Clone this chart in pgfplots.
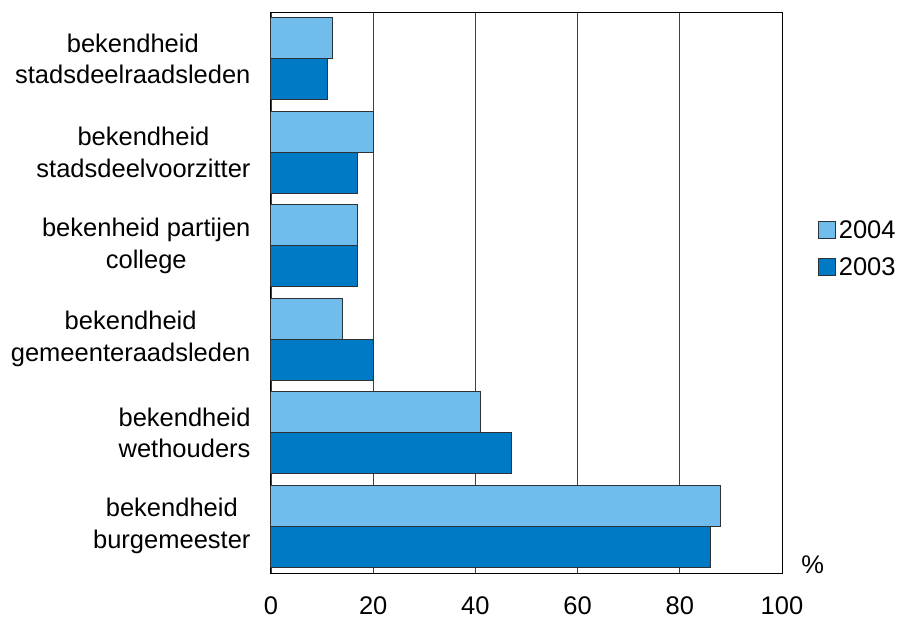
\documentclass[border=0pt]{standalone}
\usepackage{pgfplots}
\pgfplotsset{compat=1.18}
\usepackage{fontspec}
\setmainfont{Liberation Sans}
\definecolor{lightb}{RGB}{112,188,236}
\definecolor{darkb}{RGB}{0,122,196}
\definecolor{edge}{RGB}{45,50,55}
\newcommand{\fs}{\fontsize{25.5bp}{31.7bp}\selectfont}
\begin{document}
\begin{tikzpicture}
\path[use as bounding box] (-271bp,-48bp) rectangle (628bp,573bp);
\begin{axis}[
  at={(0,0)}, anchor=south west,
  scale only axis, width=511bp, height=561bp,
  xbar, xmin=0, xmax=100, ymin=-0.5, ymax=5.5,
  bar width=0.44,
  clip=false,
  xtick={0,20,...,100},
  ytick={0,...,5},
  yticklabels={{bekendheid\\burgemeester},{bekendheid\\wethouders},{bekendheid\\gemeenteraadsleden},{bekenheid partijen\\college},{bekendheid\\stadsdeelvoorzitter},{bekendheid\\stadsdeelraadsleden}},
  yticklabel style={align=center, font=\fs, xshift=-17bp},
  xticklabel style={font=\fs, yshift=-22bp, inner sep=1bp},
  /pgf/number format/assume math mode=true,
  major tick length=0pt,
  xmajorgrids,
  grid style={black!75, line width=0.8bp},
  axis line style={black, line width=1bp},
  legend style={at={(rel axis cs:1.064,0.578)}, anchor=west, draw=none, fill=none, font=\fs, row sep=14bp},
  legend cell align=left,
  legend image code/.code={\draw[#1] (0bp,-8bp) rectangle (17bp,9bp); \path (18bp,0bp);},
]
\addplot[fill=lightb, draw=edge, line width=1bp, bar shift=0.22] coordinates {(88,0) (41,1) (14,2) (17,3) (20,4) (12,5)};
\addlegendentry{2004}
\addplot[fill=darkb, draw=edge, line width=1bp, bar shift=-0.22] coordinates {(86,0) (47,1) (20,2) (17,3) (17,4) (11,5)};
\addlegendentry{2003}
\node[font=\fs] at (rel axis cs:1.06,0.015) {\%};
\end{axis}
\end{tikzpicture}
\end{document}
